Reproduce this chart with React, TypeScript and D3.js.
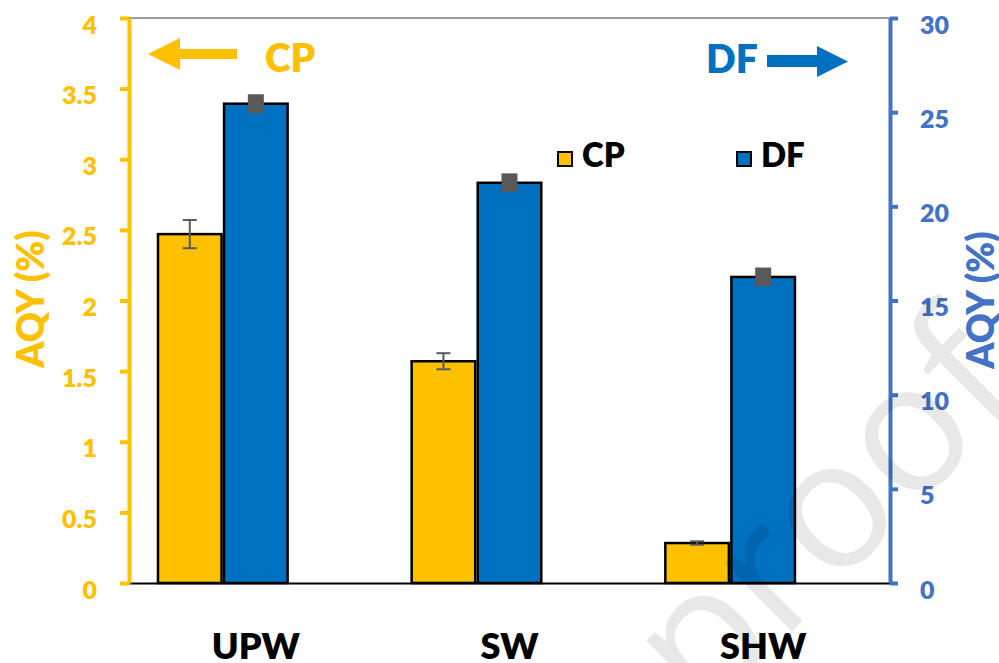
import React, { useEffect, useRef } from 'react';
import * as d3 from 'd3';

// chart data
const categories = ['UPW', 'SW', 'SHW'];
const cpValues = [2.47, 1.57, 0.283];
const cpErrors = [0.1, 0.057, 0.012];
const dfValues = [25.45, 21.25, 16.25];
const dfErrors = [0.5, 0.5, 0.5];
const leftTicks = [0, 0.5, 1, 1.5, 2, 2.5, 3, 3.5, 4];
const rightTicks = [0, 5, 10, 15, 20, 25, 30];
const slots = ['CP', 'DF', 'blank'];

const W = 999;
const H = 663;
const CP_COLOR = '#FFC000';
const DF_COLOR = '#0070C0';
const RIGHT_AXIS_COLOR = '#4472C4';
const ERR_COLOR = '#595959';
const FONT = 'Lato, "Open Sans", sans-serif';
const WEIGHT = 800;

const App = () => {
  const svgRef = useRef(null);

  useEffect(() => {
    document.body.style.margin = '0';
    const svg = d3.select(svgRef.current);
    svg.selectAll('*').remove();

    const margin = { top: 18, right: 109, bottom: 80, left: 129 };
    const plotRight = W - margin.right;
    const plotBottom = H - margin.bottom;

    const x0 = d3.scaleBand().domain(categories).range([margin.left, plotRight]);
    const x1 = d3.scaleBand().domain(slots).range([0, x0.bandwidth()]).paddingOuter(0.42);
    const yL = d3.scaleLinear().domain([0, 4]).range([plotBottom, margin.top]);
    const yR = d3.scaleLinear().domain([0, 30]).range([plotBottom, margin.top]);

    // top border
    svg.append('line')
      .attr('x1', margin.left).attr('x2', plotRight)
      .attr('y1', margin.top).attr('y2', margin.top)
      .attr('stroke', '#7a7a7a').attr('stroke-width', 1.5);

    // bottom axis (categories)
    const xAxis = svg.append('g')
      .attr('transform', `translate(0,${plotBottom})`)
      .call(d3.axisBottom(x0).tickSize(0).tickSizeOuter(0));
    xAxis.select('.domain').attr('stroke', '#000').attr('stroke-width', 2);
    xAxis.selectAll('text')
      .attr('y', 76).attr('dy', 0)
      .style('font-family', FONT).style('font-size', '36px').style('font-weight', WEIGHT)
      .attr('fill', '#000');

    // bars
    const bw = x1.bandwidth();
    const bars = svg.append('g');
    categories.forEach((c, i) => {
      bars.append('rect')
        .attr('x', x0(c) + x1('CP') + 1.25)
        .attr('y', yL(cpValues[i]))
        .attr('width', bw - 2.5)
        .attr('height', yL(0) - yL(cpValues[i]))
        .attr('fill', CP_COLOR).attr('stroke', '#000').attr('stroke-width', 2.5);
      bars.append('rect')
        .attr('x', x0(c) + x1('DF') + 1.25)
        .attr('y', yR(dfValues[i]))
        .attr('width', bw - 2.5)
        .attr('height', yR(0) - yR(dfValues[i]))
        .attr('fill', DF_COLOR).attr('stroke', '#000').attr('stroke-width', 2.5);
    });

    // error bars
    categories.forEach((c, i) => {
      const cx = x0(c) + x1('CP') + bw / 2;
      const top = yL(cpValues[i] + cpErrors[i]);
      const bot = yL(cpValues[i] - cpErrors[i]);
      const g = bars.append('g').attr('stroke', ERR_COLOR).attr('stroke-width', 2);
      g.append('line').attr('x1', cx).attr('x2', cx).attr('y1', top).attr('y2', bot);
      g.append('line').attr('x1', cx - 7).attr('x2', cx + 7).attr('y1', top).attr('y2', top);
      g.append('line').attr('x1', cx - 7).attr('x2', cx + 7).attr('y1', bot).attr('y2', bot);

      const dx = x0(c) + x1('DF') + bw / 2;
      bars.append('rect')
        .attr('x', dx - 8)
        .attr('y', yR(dfValues[i] + dfErrors[i]))
        .attr('width', 16)
        .attr('height', yR(dfValues[i] - dfErrors[i]) - yR(dfValues[i] + dfErrors[i]))
        .attr('fill', ERR_COLOR);
    });

    // left axis
    const left = svg.append('g')
      .attr('transform', `translate(${margin.left},0)`)
      .call(d3.axisLeft(yL).tickValues(leftTicks).tickSize(9).tickSizeOuter(0).tickPadding(23)
        .tickFormat(d => String(d)));
    left.select('.domain').attr('stroke', CP_COLOR).attr('stroke-width', 4);
    left.selectAll('.tick line').attr('stroke', CP_COLOR).attr('stroke-width', 4);
    left.selectAll('.tick text')
      .attr('fill', CP_COLOR).attr('dy', '0.6em')
      .style('font-family', FONT).style('font-size', '25px').style('font-weight', WEIGHT);

    // right axis
    const right = svg.append('g')
      .attr('transform', `translate(${plotRight},0)`)
      .call(d3.axisRight(yR).tickValues(rightTicks).tickSize(8).tickSizeOuter(0).tickPadding(22)
        .tickFormat(d => String(d)));
    right.select('.domain').attr('stroke', RIGHT_AXIS_COLOR).attr('stroke-width', 4);
    right.selectAll('.tick line').attr('stroke', RIGHT_AXIS_COLOR).attr('stroke-width', 4);
    right.selectAll('.tick text')
      .attr('fill', RIGHT_AXIS_COLOR).attr('dy', '0.6em')
      .style('font-family', FONT).style('font-size', '25px').style('font-weight', WEIGHT);

    // axis titles
    svg.append('text')
      .attr('transform', 'translate(44,299) rotate(-90)')
      .attr('text-anchor', 'middle')
      .attr('fill', CP_COLOR)
      .style('font-family', FONT).style('font-size', '37px').style('font-weight', WEIGHT)
      .text('AQY (%)');
    svg.append('text')
      .attr('transform', 'translate(994,300) rotate(-90)')
      .attr('text-anchor', 'middle')
      .attr('fill', RIGHT_AXIS_COLOR)
      .style('font-family', FONT).style('font-size', '37px').style('font-weight', WEIGHT)
      .text('AQY (%)');

    // direction hints
    svg.append('path')
      .attr('d', 'M148,54L180,38L180,49L237,49L237,59L180,59L180,70Z')
      .attr('fill', CP_COLOR);
    svg.append('text')
      .attr('x', 265).attr('y', 72)
      .attr('fill', CP_COLOR)
      .style('font-family', FONT).style('font-size', '39px').style('font-weight', WEIGHT)
      .text('CP');
    svg.append('path')
      .attr('d', 'M767,55L817,55L817,46L848,61.5L817,77L817,67L767,67Z')
      .attr('fill', DF_COLOR);
    svg.append('text')
      .attr('x', 706).attr('y', 73)
      .attr('fill', DF_COLOR)
      .style('font-family', FONT).style('font-size', '39px').style('font-weight', WEIGHT)
      .text('DF');

    // legend
    const legend = [
      { name: 'CP', color: CP_COLOR, x: 558 },
      { name: 'DF', color: DF_COLOR, x: 737 },
    ];
    legend.forEach(l => {
      svg.append('rect')
        .attr('x', l.x).attr('y', 152).attr('width', 14).attr('height', 14)
        .attr('fill', l.color).attr('stroke', '#000').attr('stroke-width', 2);
      svg.append('text')
        .attr('x', l.x + 24).attr('y', 167)
        .attr('fill', '#000')
        .style('font-family', FONT).style('font-size', '33px').style('font-weight', WEIGHT)
        .text(l.name);
    });

    // watermark
    svg.append('text')
      .attr('transform', 'translate(1029,394) rotate(-45)')
      .attr('text-anchor', 'end')
      .attr('fill', 'rgba(0,0,0,0.09)')
      .style('font-family', '"Open Sans", sans-serif').style('font-size', '180px')
      .text('Journal Pre-proof');
  }, []);

  return (
    <svg ref={svgRef} width={W} height={H} style={{ display: 'block', background: '#fff' }} />
  );
};

export default App;
